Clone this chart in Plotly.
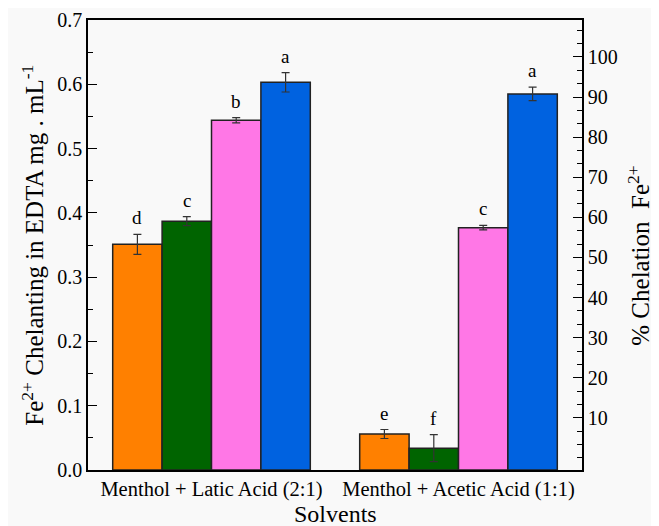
import plotly.graph_objects as go

categories = ["Menthol + Latic Acid (2:1)", "Menthol + Acetic Acid (1:1)"]
series_names = ["S1", "S2", "S3", "S4"]
series_colors = ["#FF8000", "#006400", "#FF77E6", "#0062E0"]
values = [
    [0.351, 0.056],
    [0.387, 0.034],
    [0.544, 0.377],
    [0.603, 0.585],
]
errors = [
    [0.0155, 0.0070],
    [0.0070, 0.0210],
    [0.0040, 0.0036],
    [0.0150, 0.0105],
]
letters = [
    ["d", "e"],
    ["c", "f"],
    ["b", "c"],
    ["a", "a"],
]
right_ticks = [10, 20, 30, 40, 50, 60, 70, 80, 90, 100]

FONT = "Times New Roman, Liberation Serif, serif"
BG = "#f9f9f9"

fig = go.Figure()
xs = list(range(len(categories)))
for name, col, vals, errs in zip(series_names, series_colors, values, errors):
    fig.add_trace(go.Bar(
        x=xs, y=vals, name=name,
        marker=dict(color=col, line=dict(color="#222222", width=1.5)),
        error_y=dict(type="data", array=errs, visible=True,
                     color="#333333", thickness=1.2, width=4),
        showlegend=False,
    ))

# invisible trace to activate right axis
fig.add_trace(go.Scatter(x=[0], y=[0], yaxis="y2", mode="markers",
                         marker=dict(opacity=0), showlegend=False,
                         hoverinfo="skip"))

n = len(series_names)
group_w = 0.8
bw = group_w / n
for k in range(n):
    for g in range(len(categories)):
        xpos = g - group_w / 2 + bw * (k + 0.5)
        fig.add_annotation(
            x=xpos, y=values[k][g] + errors[k][g],
            text=letters[k][g], showarrow=False,
            yanchor="bottom", yshift=4,
            font=dict(family=FONT, size=19, color="black"),
        )

# axis titles as annotations for exact placement
fig.add_annotation(
    xref="paper", yref="paper", x=-0.112, y=0.5,
    text="Fe<sup>2+</sup> Chelanting in EDTA mg . mL<sup>-1</sup>",
    textangle=-90, showarrow=False, xanchor="center", yanchor="middle",
    font=dict(family=FONT, size=25, color="black"),
)
fig.add_annotation(
    xref="paper", yref="paper", x=1.115, y=0.478,
    text="% Chelation  Fe<sup>2+</sup>",
    textangle=-90, showarrow=False, xanchor="center", yanchor="middle",
    font=dict(family=FONT, size=25, color="black"),
)
fig.add_annotation(
    xref="paper", yref="paper", x=0.5, y=-0.097,
    text="Solvents", showarrow=False, xanchor="center", yanchor="middle",
    font=dict(family=FONT, size=24, color="black"),
)

# page body has an 8px margin, so the figure is 8px smaller and offset
fig.update_layout(
    width=651, height=518,
    margin=dict(l=80, r=77, t=12, b=56),
    paper_bgcolor=BG, plot_bgcolor=BG,
    barmode="group", bargap=0.2, bargroupgap=0,
    font=dict(family=FONT, size=19, color="black"),
    xaxis=dict(
        range=[-0.5, 1.5], tickvals=xs, ticktext=categories,
        showline=True, linecolor="black", linewidth=1.5, mirror=True,
        ticks="", showgrid=False, zeroline=False, automargin=False,
        tickfont=dict(family=FONT, size=20.5),
    ),
    yaxis=dict(
        range=[0, 0.7], dtick=0.1, tickformat=".1f",
        showline=True, linecolor="black", linewidth=1.5,
        ticks="inside", ticklen=9, tickwidth=1.2, tickcolor="black",
        minor=dict(dtick=0.05, ticks="inside", ticklen=5, tickwidth=1.2, tickcolor="black"),
        showgrid=False, zeroline=False, automargin=False,
        tickfont=dict(family=FONT, size=20),
    ),
    yaxis2=dict(
        overlaying="y", side="right", range=[-3, 109.2],
        tickvals=right_ticks,
        showline=True, linecolor="black", linewidth=1.5,
        ticks="inside", ticklen=9, tickwidth=1.2, tickcolor="black",
        minor=dict(dtick=10 / 3, tick0=0, ticks="inside", ticklen=5, tickwidth=1.2, tickcolor="black"),
        showgrid=False, zeroline=False, automargin=False,
        tickfont=dict(family=FONT, size=20),
    ),
)

fig.write_html("out.html")
